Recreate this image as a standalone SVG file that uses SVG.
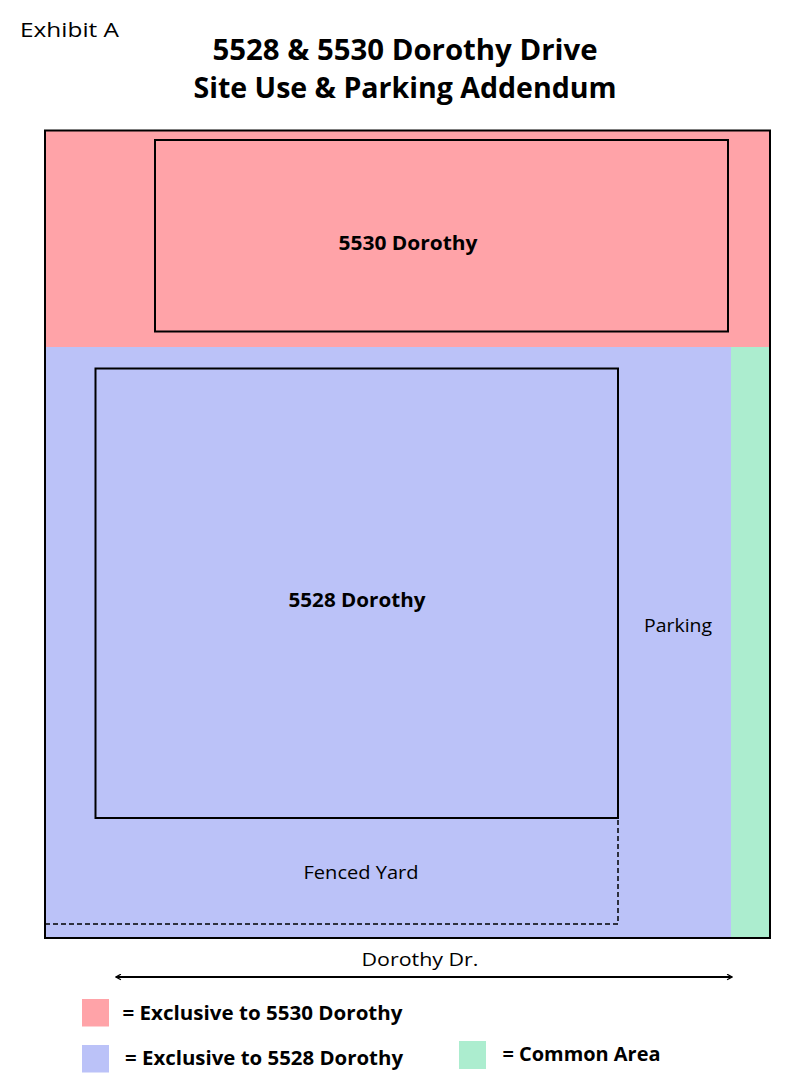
<svg xmlns="http://www.w3.org/2000/svg" width="809" height="1080" viewBox="0 0 809 1080">
<defs>
<style>
.t{font-family:"Open Sans","Liberation Sans",sans-serif;fill:#000}
.b{font-weight:bold}
.bld{fill:none;stroke:#000;stroke-width:2}
.dash{fill:none;stroke:#000;stroke-width:1.5;stroke-dasharray:5 3}
</style>
<marker id="chev" viewBox="0 0 10 10" refX="9" refY="5" markerWidth="7" markerHeight="7" orient="auto-start-reverse" markerUnits="userSpaceOnUse">
<path d="M2 1 L9 5 L2 9" fill="none" stroke="#000" stroke-width="1.8"/>
</marker>
</defs>
<rect width="809" height="1080" fill="#fff"/>
<text class="t" x="20" y="37" font-size="20" textLength="99" lengthAdjust="spacingAndGlyphs">Exhibit A</text>
<g id="title">
<text class="t b" x="405" y="60" font-size="28" text-anchor="middle" textLength="385" lengthAdjust="spacingAndGlyphs">5528 &amp; 5530 Dorothy Drive</text>
<text class="t b" x="405" y="98" font-size="28" text-anchor="middle" textLength="423" lengthAdjust="spacingAndGlyphs">Site Use &amp; Parking Addendum</text>
</g>
<g id="areas">
<rect x="45" y="130.5" width="725" height="216.5" fill="#ffa3a8"/>
<rect x="45" y="347" width="686" height="591" fill="#bbc2f8"/>
<rect x="731" y="347" width="39" height="591" fill="#acedcf"/>
<rect x="45" y="130.5" width="725" height="807.5" class="bld"/>
</g>
<g id="n5530">
<rect x="155" y="140" width="573" height="191.5" class="bld"/>
<text class="t b" x="408" y="250" font-size="19" text-anchor="middle" textLength="139" lengthAdjust="spacingAndGlyphs">5530 Dorothy</text>
</g>
<g id="n5528">
<rect x="95.5" y="368.5" width="522.5" height="449.5" class="bld"/>
<text class="t b" x="357" y="607" font-size="19" text-anchor="middle" textLength="137" lengthAdjust="spacingAndGlyphs">5528 Dorothy</text>
</g>
<g id="parking">
<text class="t" x="678" y="632" font-size="18" text-anchor="middle" textLength="68" lengthAdjust="spacingAndGlyphs">Parking</text>
</g>
<g id="yard">
<path d="M45 924 H618 V818" class="dash"/>
<text class="t" x="361" y="879" font-size="18" text-anchor="middle" textLength="115" lengthAdjust="spacingAndGlyphs">Fenced Yard</text>
</g>
<g id="connectors">
<line x1="116" y1="977" x2="732" y2="977" stroke="#000" stroke-width="2" marker-start="url(#chev)" marker-end="url(#chev)"/>
</g>
<text class="t" x="420" y="966" font-size="19" text-anchor="middle" textLength="117" lengthAdjust="spacingAndGlyphs">Dorothy Dr.</text>
<g id="legend">
<rect x="82" y="999" width="27" height="27.5" fill="#ffa3a8"/>
<text class="t b" x="122.5" y="1020" font-size="20" textLength="280" lengthAdjust="spacingAndGlyphs">= Exclusive to 5530 Dorothy</text>
<rect x="82" y="1045" width="27" height="27.5" fill="#bbc2f8"/>
<text class="t b" x="125" y="1065" font-size="20" textLength="278" lengthAdjust="spacingAndGlyphs">= Exclusive to 5528 Dorothy</text>
<rect x="459" y="1041" width="27" height="28" fill="#acedcf"/>
<text class="t b" x="502.5" y="1061" font-size="20" textLength="158" lengthAdjust="spacingAndGlyphs">= Common Area</text>
</g>
</svg>
